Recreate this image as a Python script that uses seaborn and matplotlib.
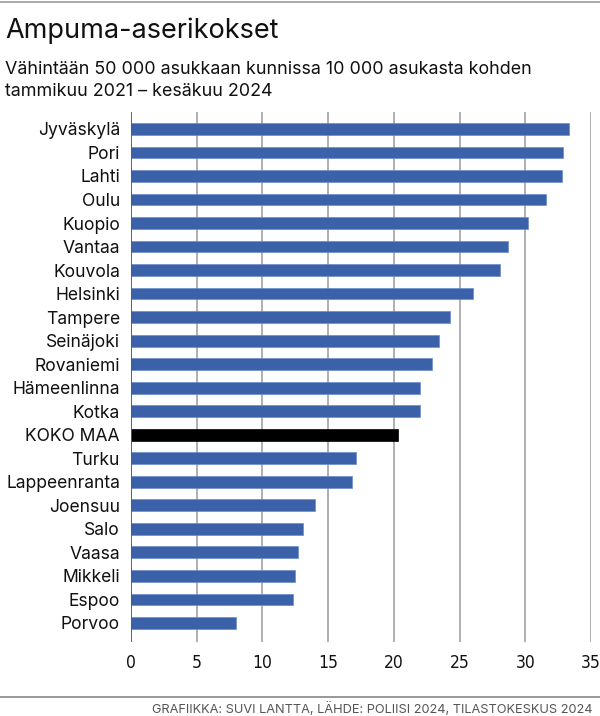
import matplotlib
matplotlib.use("Agg")
import matplotlib.pyplot as plt
import seaborn as sns
import pandas as pd

# Data: firearm offences per 10 000 inhabitants
kunnat = ["Jyväskylä", "Pori", "Lahti", "Oulu", "Kuopio", "Vantaa", "Kouvola",
          "Helsinki", "Tampere", "Seinäjoki", "Rovaniemi", "Hämeenlinna", "Kotka",
          "KOKO MAA", "Turku", "Lappeenranta", "Joensuu", "Salo", "Vaasa",
          "Mikkeli", "Espoo", "Porvoo"]
arvot = [33.3, 32.9, 32.8, 31.6, 30.2, 28.7, 28.1,
         26.0, 24.3, 23.4, 22.9, 22.0, 22.0,
         20.3, 17.1, 16.8, 14.0, 13.1, 12.7,
         12.5, 12.35, 8.0]
x_ticks = [0, 5, 10, 15, 20, 25, 30, 35]

title = "Ampuma-aserikokset"
subtitle = "Vähintään 50 000 asukkaan kunnissa 10 000 asukasta kohden\ntammikuu 2021 – kesäkuu 2024"
footer = "GRAFIIKKA: SUVI LANTTA, LÄHDE: POLIISI 2024, TILASTOKESKUS 2024"

df = pd.DataFrame({"kunta": kunnat, "arvo": arvot})
blue = "#3b62a9"
colors = {k: ("black" if k == "KOKO MAA" else blue) for k in kunnat}

sns.set_style("white")
plt.rcParams["font.family"] = ["Inter", "DejaVu Sans"]

fig = plt.figure(figsize=(6, 7.16), dpi=100)
ax = fig.add_axes([131 / 600, 1 - 642 / 716, 460 / 600, 530 / 716])

sns.barplot(data=df, x="arvo", y="kunta", hue="kunta", palette=colors,
            saturation=1, legend=False, width=0.5, ax=ax, zorder=3)
for p, k in zip(ax.patches, kunnat):
    p.set_edgecolor("black" if k == "KOKO MAA" else "#6a8bcc")
    p.set_linewidth(0.5)

ax.set_xlim(0, 35)
ax.set_ylim(21.81, -0.72)
ax.set_xticks(x_ticks)
ax.set_xticklabels([str(t) for t in x_ticks], family="DejaVu Sans",
                   fontstretch="condensed", fontsize=12.5)
for t in x_ticks[1:]:
    ax.axvline(t, color="#9a9a9a", lw=1.1, zorder=1)
ax.axvline(0, color="#555555", lw=1.3, zorder=4)
for s in ax.spines.values():
    s.set_visible(False)
ax.tick_params(axis="both", length=0)
ax.tick_params(axis="y", pad=8, labelsize=12.6, labelcolor="#111111")
ax.tick_params(axis="x", pad=9, labelcolor="#111111")
ax.set_xlabel("")
ax.set_ylabel("")

# Titles and footer
fig.text(5 / 600, 1 - 38 / 716, title, fontsize=19.5, color="#111111", va="baseline")
fig.text(5 / 600, 1 - 96 / 716, subtitle, fontsize=12.9, color="#111111",
         va="baseline", linespacing=1.4)
fig.text(592 / 600, 1 - 713 / 716, footer, fontsize=9.2, color="#555555",
         ha="right", va="baseline")

fig.add_artist(plt.Line2D([0, 1], [1 - 1.5 / 716] * 2, color="#999999", lw=1.2))
fig.add_artist(plt.Line2D([0, 1], [1 - 697 / 716] * 2, color="#888888", lw=1.2))

fig.savefig("out.png", dpi=100)
